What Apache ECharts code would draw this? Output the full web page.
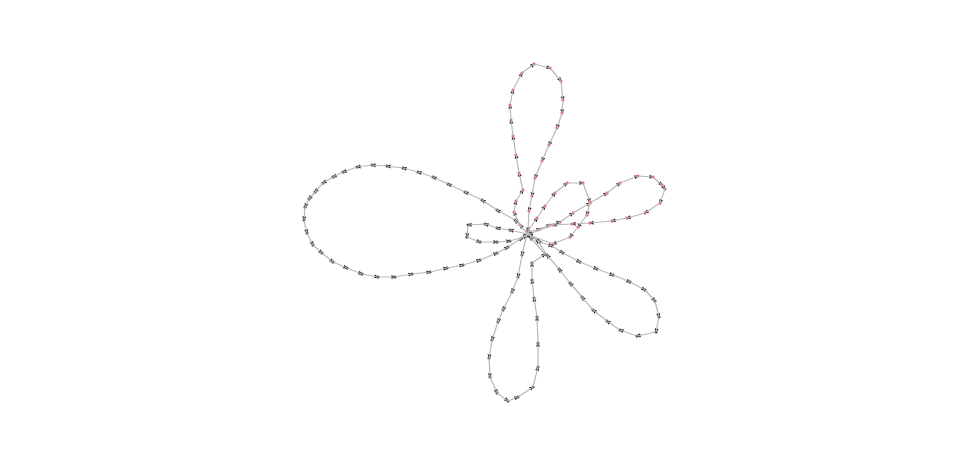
<!DOCTYPE html>
<html>
<head>
<meta charset="utf-8">
<script src="https://cdn.jsdelivr.net/npm/echarts@6/dist/echarts.min.js"></script>
<style>html,body{margin:0;padding:0;background:#fff}#c{width:970px;height:466px}</style>
</head>
<body>
<div id="c"></div>
<script>
// Petal traces (data units), each starts and ends at the hub
const petalLeft = [[528,234],[515,220],[497,210],[482,200],[465,192],[448,184],[433,177],[418,172],[403,168],[387,166],[372,165],[357,167],[343,172],[333,177],[323,183],[315,192],[309,199],[305,207],[304,220],[307,233],[313,245],[322,253],[333,262],[347,268],[362,274],[378,277],[395,277],[412,274],[430,272],[447,268],[463,265],[480,260],[497,253],[508,247],[522,238]];
const petalLeftSmall = [[527,234],[510,230],[497,228],[485,224],[468,225],[467,237],[480,242],[497,242],[510,241],[527,236]];
const petalTop = [[527,233],[520,225],[514,212],[516,201],[523,190],[519,173],[516,155],[513,136],[511,120],[510,105],[513,90],[522,73],[534,64],[550,68],[561,81],[563,100],[562,113],[557,128],[549,145],[542,161],[535,178],[532,196],[529,211],[528,231]];
const petalUpperRightSmall = [[528,233],[537,218],[545,206],[555,193],[567,183],[583,183],[590,202],[587,215],[578,227],[570,237],[553,244],[529,235]];
const petalUpperRight = [[528,232],[540,229],[550,225],[560,222],[573,213],[590,203],[607,193],[620,183],[638,176],[653,177],[662,185],[665,189],[660,203],[645,213],[627,218],[612,221],[590,223],[572,224],[553,225],[529,234]];
const petalLowerRight = [[530,236],[540,242],[552,246],[563,253],[580,262],[597,269],[613,275],[630,282],[645,290],[655,301],[659,317],[656,332],[637,336],[620,330],[607,321],[593,310],[582,297],[570,283],[559,269],[547,255],[537,240]];
const petalBottom = [[527,234],[522,255],[518,277],[512,292],[503,310],[498,322],[492,340],[489,358],[490,377],[497,393],[508,401],[518,397],[533,387],[538,367],[538,343],[537,317],[534,298],[532,280],[532,263],[545,254],[530,237]];

const petals = [petalLeft, petalLeftSmall, petalTop, petalUpperRightSmall, petalUpperRight, petalLowerRight, petalBottom];
const petalNodeColors = ['#222222', '#222222', '#e8403f', '#e8403f', '#e8403f', '#222222', '#333333'];

const points = [];
const nodes = [];
petals.forEach(function (p, pi) {
  p.forEach(function (pt) {
    points.push(pt);
    nodes.push({ value: pt, itemStyle: { color: petalNodeColors[pi] } });
  });
});
const links = [];
for (let i = 0; i < nodes.length - 1; i++) links.push({ source: i, target: i + 1 });

const chart = echarts.init(document.getElementById('c'));
chart.setOption({
  animation: false,
  backgroundColor: '#ffffff',
  grid: { left: 0, right: 0, top: 0, bottom: 0 },
  xAxis: { type: 'value', min: 0, max: 970, show: false },
  yAxis: { type: 'value', min: 0, max: 466, inverse: true, show: false },
  series: [
    {
      type: 'line',
      data: points,
      showSymbol: false,
      silent: true,
      lineStyle: { color: '#b8b8b8', width: 1.2 }
    },
    {
      type: 'graph',
      coordinateSystem: 'cartesian2d',
      layout: 'none',
      data: nodes,
      links: links,
      symbolSize: 3,
      edgeSymbol: ['none', 'path://M0,10L5,0L10,10Z'],
      edgeSymbolSize: 4,
      lineStyle: { color: '#111111', width: 0, opacity: 1 },
      label: { show: false }
    }
  ]
});
</script>
</body>
</html>
